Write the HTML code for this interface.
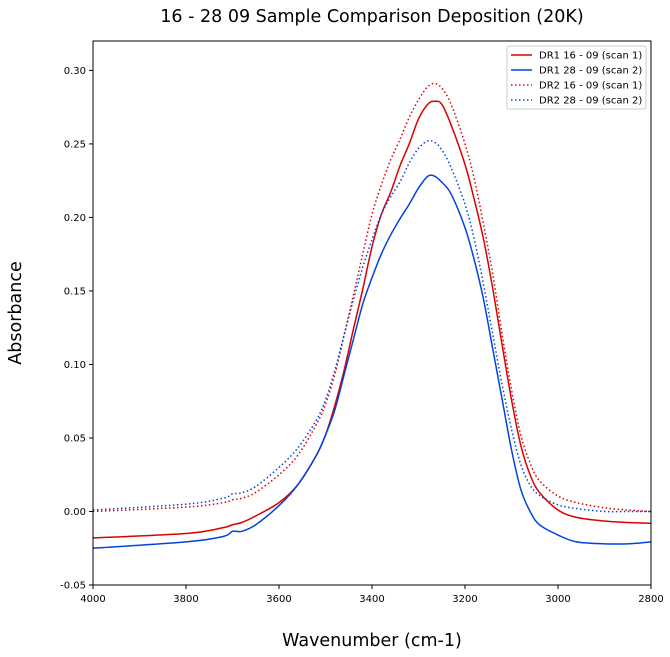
<!DOCTYPE html>
<html><head><meta charset="utf-8"><style>
body{margin:0;background:#fff;}
svg{display:block;font-family:"DejaVu Sans","Liberation Sans",sans-serif;}
</style></head><body>
<svg id="chart" width="670" height="657">
<text x="372" y="22" text-anchor="middle" font-size="17.5">16 - 28 09 Sample Comparison Deposition (20K)</text>
<text x="372" y="646" text-anchor="middle" font-size="17.5">Wavenumber (cm-1)</text>
<text x="21" y="313" text-anchor="middle" font-size="17.5" transform="rotate(-90 21 313)">Absorbance</text>
<g id="plot"></g>
</svg>
<script>
const wn = [4000,3800,3720,3700,3680,3650,3600,3560,3520,3500,3480,3460,3440,3420,3400,3380,3360,3340,3320,3300,3280,3265,3250,3230,3200,3180,3160,3140,3120,3100,3080,3060,3040,3000,2960,2900,2850,2800];
const dr1s1 = [-0.018,-0.015,-0.011,-0.009,-0.0075,-0.003,0.006,0.018,0.038,0.052,0.072,0.096,0.124,0.151,0.18,0.202,0.217,0.235,0.25,0.267,0.277,0.279,0.277,0.263,0.236,0.212,0.185,0.151,0.113,0.076,0.045,0.025,0.013,0.001,-0.004,-0.0065,-0.0075,-0.008];
const dr1s2 = [-0.025,-0.0207,-0.017,-0.0135,-0.0135,-0.009,0.004,0.018,0.038,0.052,0.069,0.093,0.117,0.141,0.159,0.175,0.188,0.199,0.209,0.22,0.228,0.228,0.224,0.216,0.193,0.171,0.144,0.11,0.076,0.042,0.015,0.0,-0.009,-0.016,-0.0207,-0.022,-0.022,-0.0207];
const dr2s1 = [0.0,0.003,0.006,0.008,0.009,0.013,0.025,0.038,0.059,0.073,0.093,0.12,0.147,0.175,0.202,0.222,0.239,0.253,0.268,0.28,0.289,0.291,0.288,0.277,0.25,0.226,0.195,0.161,0.12,0.083,0.052,0.033,0.021,0.0105,0.006,0.0025,0.001,0.0];
const dr2s2 = [0.001,0.005,0.009,0.012,0.0127,0.017,0.03,0.043,0.062,0.076,0.096,0.12,0.144,0.166,0.185,0.202,0.214,0.224,0.237,0.247,0.252,0.251,0.246,0.234,0.209,0.185,0.154,0.12,0.086,0.056,0.032,0.018,0.011,0.0045,0.002,0.0,0.0,0.0];
const xTicks = [4000,3800,3600,3400,3200,3000,2800];
const yTicks = [-0.05,0.00,0.05,0.10,0.15,0.20,0.25,0.30];
const legendLabels = ["DR1 16 - 09 (scan 1)","DR1 28 - 09 (scan 2)","DR2 16 - 09 (scan 1)","DR2 28 - 09 (scan 2)"];

const L=93,R=651,T=41,B=585;
const x = w => L + (4000-w)/(4000-2800)*(R-L);
const y = v => B - (v+0.05)/(0.32+0.05)*(B-T);
const NS="http://www.w3.org/2000/svg";
const g=document.getElementById('plot');
function mk(t,a){const e=document.createElementNS(NS,t);for(const k in a)e.setAttribute(k,a[k]);return e;}

function path(vals){
  const p=wn.map((w,i)=>[x(w),y(vals[i])]);
  let d="M"+p[0][0]+","+p[0][1];
  for(let i=0;i<p.length-1;i++){
    const p0=p[Math.max(0,i-1)],p1=p[i],p2=p[i+1],p3=p[Math.min(p.length-1,i+2)];
    const c1x=p1[0]+(p2[0]-p0[0])/6,c1y=p1[1]+(p2[1]-p0[1])/6;
    const c2x=p2[0]-(p3[0]-p1[0])/6,c2y=p2[1]-(p3[1]-p1[1])/6;
    d+=` C${c1x},${c1y} ${c2x},${c2y} ${p2[0]},${p2[1]}`;
  }
  return d;
}
const series=[[dr1s1,"#dd0000",null],[dr1s2,"#0044dd",null],[dr2s1,"#dd0000","1.5,2.5"],[dr2s2,"#0044dd","1.5,2.5"]];
const names=["series-dr1-scan1","series-dr1-scan2","series-dr2-scan1","series-dr2-scan2"];
series.forEach((s,i)=>{
  const a={d:path(s[0]),fill:"none",stroke:s[1],"stroke-width":1.5};
  if(s[2])a["stroke-dasharray"]=s[2];
  const e=mk("path",a);
  
  
  g.appendChild(e);
});
const frame=mk("rect",{x:L,y:T,width:R-L,height:B-T,fill:"none",stroke:"#000","stroke-width":1});


g.appendChild(frame);
xTicks.forEach(t=>{
  const l=mk("line",{x1:x(t),x2:x(t),y1:B,y2:B+4,stroke:"#000"});
  
  
  g.appendChild(l);
  const tx=mk("text",{x:x(t),y:B+17,"text-anchor":"middle","font-size":10});
  tx.textContent=t;
  
  
  g.appendChild(tx);
});
yTicks.forEach(t=>{
  const l=mk("line",{x1:L-4,x2:L,y1:y(t),y2:y(t),stroke:"#000"});
  
  
  g.appendChild(l);
  const tx=mk("text",{x:L-7,y:y(t)+3.5,"text-anchor":"end","font-size":10});
  tx.textContent=t.toFixed(2);
  
  
  g.appendChild(tx);
});
const lg=mk("g",{});


g.appendChild(lg);
lg.appendChild(mk("rect",{x:507,y:46,width:139,height:63,fill:"#fff",stroke:"#ccc",rx:2}));
legendLabels.forEach((lab,i)=>{
  const yy=55+i*15;
  const a={x1:511,x2:532,y1:yy,y2:yy,stroke:series[i][1],"stroke-width":1.5};
  if(series[i][2])a["stroke-dasharray"]=series[i][2];
  const ln=mk("line",a);
  
  
  lg.appendChild(ln);
  const tx=mk("text",{x:539,y:yy+3.5,"font-size":10});
  tx.textContent=lab;
  
  
  lg.appendChild(tx);
});
</script>
</body></html>
